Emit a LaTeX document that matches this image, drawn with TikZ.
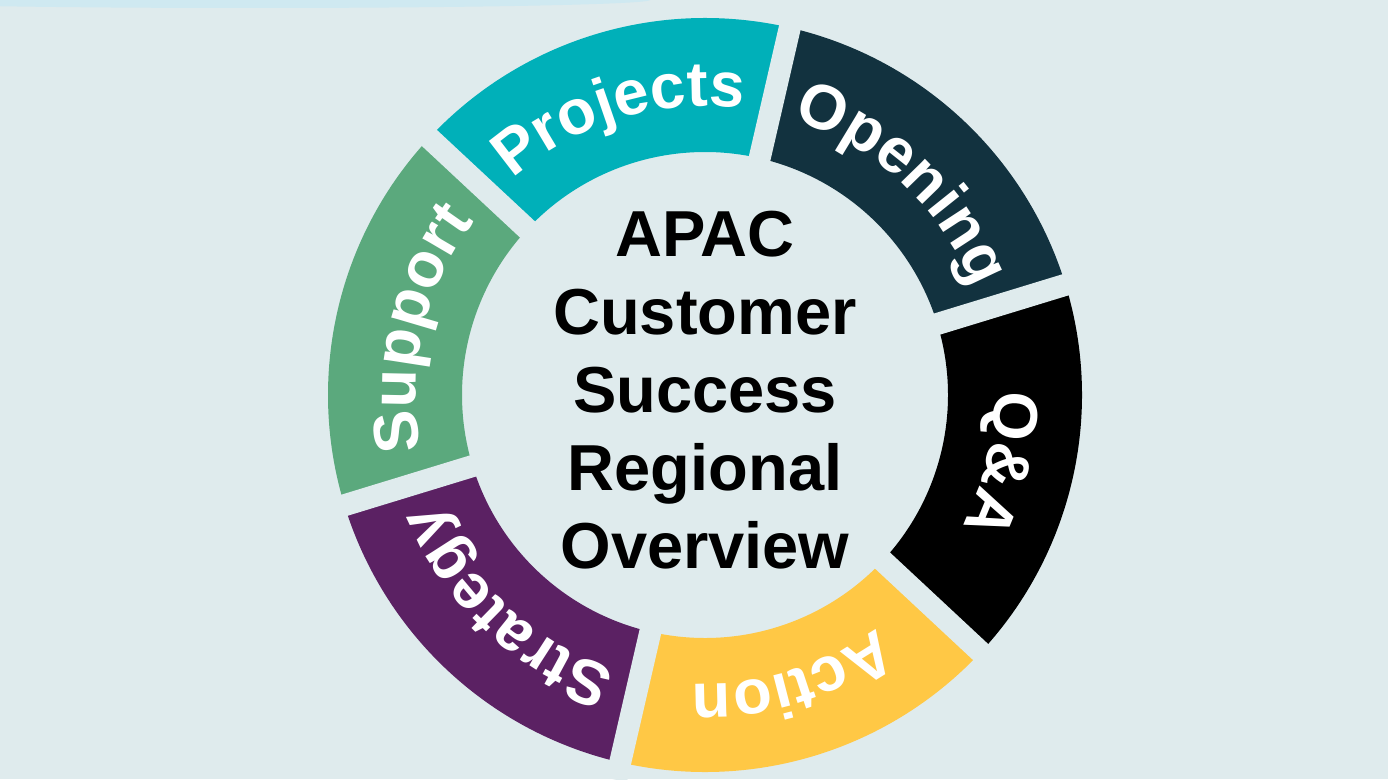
\documentclass[tikz,border=0pt]{standalone}
\usepackage{fontspec}
\setmainfont{Liberation Sans}
\usetikzlibrary{decorations.text}
\definecolor{bg}{HTML}{DFEBED}
\definecolor{cproj}{HTML}{00B0B9}
\definecolor{copen}{HTML}{12323F}
\definecolor{cqa}{HTML}{000000}
\definecolor{cact}{HTML}{FFC845}
\definecolor{cstr}{HTML}{5B2163}
\definecolor{csup}{HTML}{5BA97D}
\newcommand{\labfont}{\fontsize{36}{38}\selectfont\bfseries}
\begin{document}
\begin{tikzpicture}[x=0.02cm,y=0.02cm,
  seg/.style={fill=#1},
  gap/.style={draw=bg,line width=0.44cm},
  lab/.style={decorate,decoration={text along path,text align=center,text color=white,text={|\labfont|#1}}}]
\useasboundingbox (0,0) rectangle (1388,779);
\fill[bg] (0,0) rectangle (1388,779);
\begin{scope}
\clip (0,0) rectangle (1388,779);
\fill[cyan!30,opacity=0.35] (250,779) ellipse [x radius=400,y radius=8];
\end{scope}
\begin{scope}[shift={(705,384)}]
\foreach \a/\c in {137/cproj,77/copen,17/cqa,-43/cact,-103/cstr,197/csup}{
  \fill[seg=\c] (\a:377) arc[start angle=\a,end angle=\a-60,radius=377]
     -- (\a-60:243) arc[start angle=\a-60,end angle=\a,radius=243] -- cycle;
}
\foreach \a in {137,77,17,-43,-103,197}{
  \draw[gap] (\a:230) -- (\a:395);
}
\path[lab=Projects] (137:289) arc[start angle=137,end angle=77,radius=289];
\path[lab=Opening] (77:289) arc[start angle=77,end angle=17,radius=289];
\path[lab={Q{\&}A}] (17:289) arc[start angle=17,end angle=-43,radius=289];
\path[lab=Action] (-43:289) arc[start angle=-43,end angle=-103,radius=289];
\path[lab=Strategy] (-103:289) arc[start angle=-103,end angle=-163,radius=289];
\path[lab=Support] (197:289) arc[start angle=197,end angle=137,radius=289];
\node[align=center,font=\fontsize{37}{44.5}\selectfont\bfseries] (title) at (0,5)
  {APAC\\Customer\\Success\\Regional\\Overview};
\end{scope}
\end{tikzpicture}
\end{document}
